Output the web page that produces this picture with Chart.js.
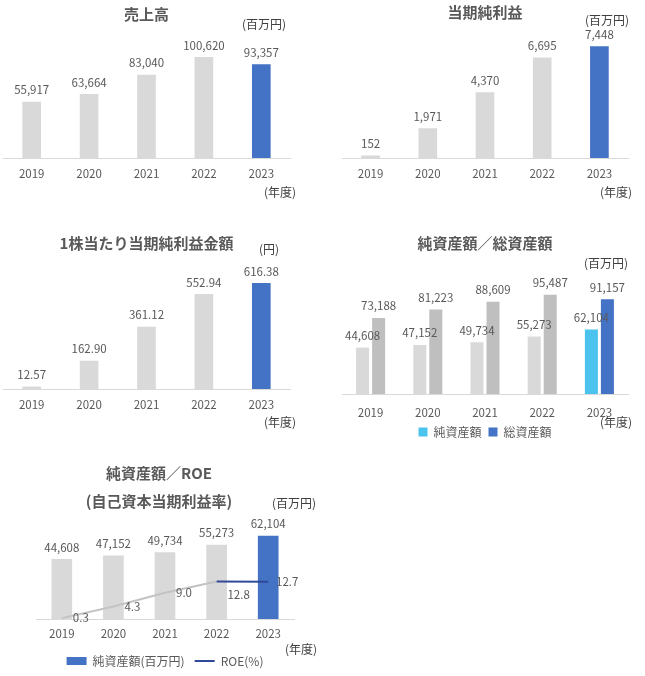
<!DOCTYPE html>
<html lang="ja">
<head>
<meta charset="utf-8">
<title>業績ハイライト</title>
<script src="https://cdn.jsdelivr.net/npm/chart.js@4.4.1/dist/chart.umd.min.js"></script>
<style>
  body {
    margin: 0;
    width: 645px;
    height: 676px;
    position: relative;
    overflow: hidden;
    background: #fff;
    font-family: "Noto Sans CJK JP", "Noto Sans", sans-serif;
  }
  .box { position: absolute; }
  .unit {
    position: absolute;
    font-size: 12px;
    line-height: 1;
    color: #404040;
    white-space: nowrap;
  }
</style>
</head>
<body>
<div class="box" style="left:0;top:0;width:320px;height:200px"><canvas id="sales"></canvas></div>
<div class="box" style="left:320px;top:0;width:325px;height:200px"><canvas id="netIncome"></canvas></div>
<div class="box" style="left:0;top:220px;width:320px;height:210px"><canvas id="eps"></canvas></div>
<div class="box" style="left:320px;top:220px;width:325px;height:230px"><canvas id="assets"></canvas></div>
<div class="box" style="left:0;top:440px;width:330px;height:237px"><canvas id="roe"></canvas></div>

<div class="unit" style="left:242px;top:18px">(百万円)</div>
<div class="unit" style="left:264px;top:186px">(年度)</div>
<div class="unit" style="left:585px;top:14px">(百万円)</div>
<div class="unit" style="left:600px;top:186px">(年度)</div>
<div class="unit" style="left:259px;top:243px">(円)</div>
<div class="unit" style="left:264px;top:416px">(年度)</div>
<div class="unit" style="left:584px;top:257px">(百万円)</div>
<div class="unit" style="left:600px;top:416px">(年度)</div>
<div class="unit" style="left:272px;top:497px">(百万円)</div>
<div class="unit" style="left:285px;top:643px">(年度)</div>

<script>
// values (fiscal years)
const years = ["2019", "2020", "2021", "2022", "2023"];
const sales = [55917, 63664, 83040, 100620, 93357];
const netIncome = [152, 1971, 4370, 6695, 7448];
const eps = [12.57, 162.9, 361.12, 552.94, 616.38];
const netAssets = [44608, 47152, 49734, 55273, 62104];
const totalAssets = [73188, 81223, 88609, 95487, 91157];
const roe = [0.3, 4.3, 9.0, 12.8, 12.7];

// where each ROE label sits relative to its point
const roeLabelPlaces = ["right", "right", "right", "belowRight", "right"];

const GRAY = "#d9d9d9";
const DARK_GRAY = "#bfbfbf";
const BLUE = "#4472c4";
const LIGHT_BLUE = "#4bc3ee";
const NAVY = "#30499a";
const LINE_GRAY = "#c3c3c3";
const TEXT = "#595959";
const FONT = '"Noto Sans CJK JP", "Noto Sans", sans-serif';

Chart.defaults.font.family = FONT;
Chart.defaults.color = TEXT;
Chart.defaults.animation = false;

const fmtInt = (v) => v.toLocaleString("en-US");
const fmt2 = (v) => v.toFixed(2);
const fmt1 = (v) => v.toFixed(1);

// last year is highlighted
const highlight = (base, hi) => years.map((y, i) => (i === years.length - 1 ? hi : base));

const placeOffsets = {
  above: [0, -12],
  right: [19, 0],
  belowRight: [22, 13],
};

// draws value labels on top of bars / next to points
function valueLabels(formats, places) {
  return {
    id: "valueLabels",
    afterDatasetsDraw(chart) {
      const ctx = chart.ctx;
      ctx.save();
      ctx.font = "11.5px " + FONT;
      ctx.fillStyle = TEXT;
      ctx.textAlign = "center";
      ctx.textBaseline = "middle";
      chart.data.datasets.forEach((ds, i) => {
        const meta = chart.getDatasetMeta(i);
        const fmt = formats[i];
        meta.data.forEach((el, j) => {
          const place = places && places[i] ? places[i][j] : "above";
          const off = placeOffsets[place];
          ctx.fillText(fmt(ds.data[j]), el.x + off[0], el.y + off[1]);
        });
      });
      ctx.restore();
    },
  };
}

// tick labels are clipped to the axis box, so the height must cover them
function xAxis(height, padding) {
  return {
    grid: { display: false, drawTicks: false },
    border: { color: GRAY, width: 1 },
    ticks: { font: { size: 11.5 }, color: TEXT, padding: padding, maxRotation: 0 },
    afterFit: (scale) => {
      scale.height = height;
    },
  };
}

function titleOpts(text, top, bottom, lineHeight) {
  return {
    display: true,
    text: text,
    color: TEXT,
    font: { size: 15, weight: "bold", lineHeight: lineHeight || 1.2 },
    padding: { top: top, bottom: bottom },
  };
}

function singleBarChart(id, values, title, yMax, fmt, layout) {
  new Chart(document.getElementById(id), {
    type: "bar",
    data: {
      labels: years,
      datasets: [
        {
          data: values,
          backgroundColor: highlight(GRAY, BLUE),
          borderWidth: 0,
          barThickness: 18,
        },
      ],
    },
    options: {
      responsive: true,
      maintainAspectRatio: false,
      layout: { padding: layout.padding },
      plugins: {
        legend: { display: false },
        tooltip: { enabled: false },
        title: titleOpts(title, layout.titleTop, layout.titleBottom),
      },
      scales: {
        x: xAxis(26, 9),
        y: { display: false, min: 0, max: yMax },
      },
    },
    plugins: [valueLabels([fmt])],
  });
}

// 売上高
singleBarChart("sales", sales, "売上高", 120000, fmtInt, {
  padding: { left: 3, right: 30, top: 0, bottom: 16 },
  titleTop: 5,
  titleBottom: 15,
});

// 当期純利益
singleBarChart("netIncome", netIncome, "当期純利益", 9000, fmtInt, {
  padding: { left: 22, right: 17, top: 0, bottom: 16 },
  titleTop: 3,
  titleBottom: 2.5,
});

// 1株当たり当期純利益金額
singleBarChart("eps", eps, "1株当たり当期純利益金額", 700, fmt2, {
  padding: { left: 3, right: 30, top: 0, bottom: 15 },
  titleTop: 14,
  titleBottom: 17,
});

// 純資産額／総資産額
new Chart(document.getElementById("assets"), {
  type: "bar",
  data: {
    labels: years,
    datasets: [
      {
        label: "純資産額",
        data: netAssets,
        backgroundColor: highlight(GRAY, LIGHT_BLUE),
        borderWidth: 0,
        categoryPercentage: 0.56,
        barPercentage: 0.8125,
      },
      {
        label: "総資産額",
        data: totalAssets,
        backgroundColor: highlight(DARK_GRAY, BLUE),
        borderWidth: 0,
        categoryPercentage: 0.56,
        barPercentage: 0.8125,
      },
    ],
  },
  options: {
    responsive: true,
    maintainAspectRatio: false,
    layout: { padding: { left: 22, right: 17, top: 0, bottom: 2 } },
    plugins: {
      tooltip: { enabled: false },
      title: titleOpts("純資産額／総資産額", 14, 38),
      legend: {
        position: "bottom",
        labels: {
          boxWidth: 9,
          boxHeight: 9,
          padding: 7,
          color: TEXT,
          font: { size: 12 },
          generateLabels: (chart) => {
            const items = Chart.defaults.plugins.legend.labels.generateLabels(chart);
            const colors = [LIGHT_BLUE, BLUE];
            items.forEach((item, i) => {
              item.fillStyle = colors[i];
              item.strokeStyle = colors[i];
              item.lineWidth = 0;
            });
            return items;
          },
        },
      },
    },
    scales: {
      x: xAxis(25, 12),
      y: { display: false, min: 0, max: 100000 },
    },
  },
  plugins: [valueLabels([fmtInt, fmtInt])],
});

// 純資産額／ROE
new Chart(document.getElementById("roe"), {
  type: "bar",
  data: {
    labels: years,
    datasets: [
      {
        type: "bar",
        label: "純資産額(百万円)",
        data: netAssets,
        backgroundColor: highlight(GRAY, BLUE),
        borderWidth: 0,
        barThickness: 20,
        pointStyle: "rect",
        yAxisID: "y",
        order: 1,
      },
      {
        type: "line",
        label: "ROE(%)",
        data: roe,
        borderColor: NAVY,
        borderWidth: 2,
        pointRadius: 0,
        pointBorderWidth: 2,
        pointStyle: "line",
        tension: 0,
        yAxisID: "y1",
        order: 0,
        segment: {
          borderColor: (c) => (c.p0DataIndex >= 3 ? NAVY : LINE_GRAY),
        },
      },
    ],
  },
  options: {
    responsive: true,
    maintainAspectRatio: false,
    layout: { padding: { left: 24, right: 36, top: 0, bottom: 0 } },
    plugins: {
      tooltip: { enabled: false },
      title: titleOpts(["純資産額／ROE", "(自己資本当期利益率)"], 19, 10.4, 1.8667),
      legend: {
        position: "bottom",
        fullSize: false,
        labels: {
          usePointStyle: true,
          pointStyleWidth: 20,
          boxHeight: 8,
          padding: 10,
          color: TEXT,
          font: { size: 12 },
          sort: (a, b) => a.datasetIndex - b.datasetIndex,
          generateLabels: (chart) => {
            const items = Chart.defaults.plugins.legend.labels.generateLabels(chart);
            items.forEach((item) => {
              if (item.datasetIndex === 0) {
                item.fillStyle = BLUE;
                item.strokeStyle = BLUE;
                item.lineWidth = 0;
              } else {
                item.strokeStyle = NAVY;
                item.lineWidth = 2;
              }
            });
            return items;
          },
        },
      },
    },
    scales: {
      x: xAxis(26, 8),
      y: {
        position: "left",
        min: 0,
        max: 70000,
        grid: { display: false, drawTicks: false },
        border: { display: false },
        ticks: { display: false },
        afterFit: (scale) => {
          scale.width = 12;
        },
      },
      y1: { display: false, min: 0, max: 32 },
    },
  },
  plugins: [valueLabels([fmtInt, fmt1], [null, roeLabelPlaces])],
});
</script>
</body>
</html>
